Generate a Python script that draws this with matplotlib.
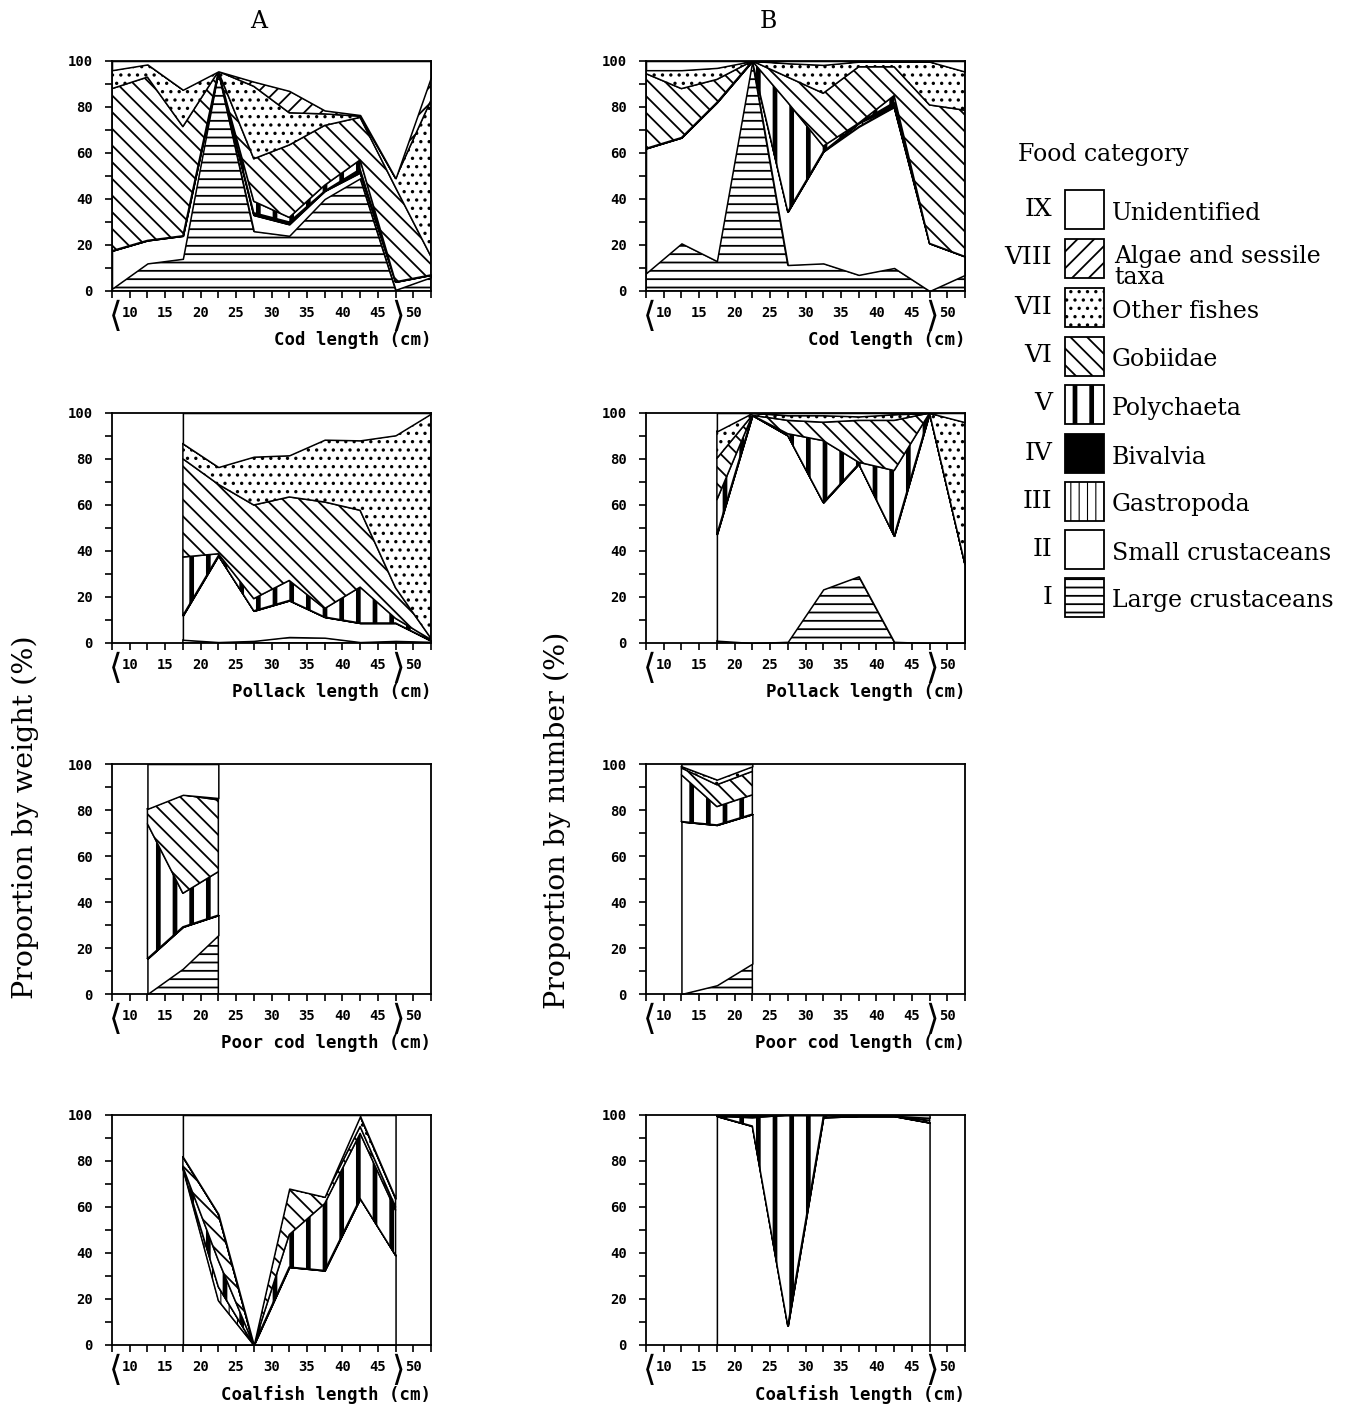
import numpy as np
import matplotlib
matplotlib.use('Agg')
import matplotlib.pyplot as plt
import matplotlib.transforms as mtransforms
from matplotlib.patches import Rectangle

nan = np.nan

'''DATA'''
# midpoints of the length classes (cm): <10, 10-15, ..., >50
lengths = [7.5, 12.5, 17.5, 22.5, 27.5, 32.5, 37.5, 42.5, 47.5, 52.5]
xtick_vals = [10, 15, 20, 25, 30, 35, 40, 45, 50]
ytick_vals = [0, 20, 40, 60, 80, 100]

numerals = ['I', 'II', 'III', 'IV', 'V', 'VI', 'VII', 'VIII', 'IX']
categories = ['Large crustaceans', 'Small crustaceans', 'Gastropoda', 'Bivalvia',
              'Polychaeta', 'Gobiidae', 'Other fishes', 'Algae and sessile\ntaxa', 'Unidentified']

# % of food category I..VIII per length class (IX unidentified = rest up to 100)
# nan -> no fish in that length class
cod_weight = [
    [1, 12, 14, 95.5, 26, 24, 40, 49, 0.5, 6],
    [16.5, 10, 10, 0, 7, 5, 3.5, 2.5, 3.5, 1],
    [0, 0, 0, 0, 0, 0, 0, 0, 0, 0],
    [0, 0, 0, 0, 1, 1, 0, 1.5, 0, 0],
    [0, 0, 0, 0, 5, 2, 2.5, 4, 0, 0],
    [70.5, 71, 47.5, 0, 18.5, 31.5, 26, 18.5, 41, 8],
    [8, 5.5, 16, 0, 31.5, 14, 5, 0.5, 4, 68],
    [0, 0, 0, 0, 2, 9.5, 1.5, 0.5, 0, 10],
]
cod_number = [
    [7.7, 20.7, 13, 100, 11.3, 12, 7, 10, 0, 7],
    [54.3, 46, 69, 0, 23.2, 48.6, 64.4, 70, 20.7, 8],
    [0, 0, 0, 0, 0, 0, 1.6, 0, 0, 0],
    [0, 0, 0, 0, 0, 0, 0, 2, 0, 0],
    [0, 0, 0, 0, 47.5, 2.4, 0, 3, 0, 0],
    [32.5, 21.3, 10, 0, 11, 23, 24.5, 12.5, 60.2, 63.6],
    [1.5, 8, 5, 0, 6, 12.3, 2.2, 2.2, 18.8, 16.8],
    [0, 0, 0, 0, 0, 0, 0, 0, 0, 0],
]
pollack_weight = [
    [nan, nan, 1.4, 0.4, 0.9, 2.6, 2.3, 0.4, 0.9, 0.5],
    [nan, nan, 10.6, 37.6, 13.1, 15.9, 9, 8.3, 7.8, 0.5],
    [nan, nan, 0, 0, 0, 0, 0, 0, 0, 0],
    [nan, nan, 0, 0, 0, 0, 0, 0, 0, 0],
    [nan, nan, 25.4, 0.8, 5.3, 8.7, 3.7, 15.6, 2, 0.5],
    [nan, nan, 42.7, 30.2, 40.7, 36.3, 46.3, 33.4, 13.3, 0.5],
    [nan, nan, 6.6, 7.5, 21, 18.1, 27.1, 30.4, 66.3, 97.7],
    [nan, nan, 0, 0, 0, 0, 0, 0, 0, 0],
]
pollack_number = [
    [nan, nan, 1, 0, 0.5, 23.3, 29, 0.5, 0, 0],
    [nan, nan, 46.3, 99, 89.7, 37.8, 48.9, 46.1, 100, 34.2],
    [nan, nan, 0, 0, 0, 0, 0, 0, 0, 0],
    [nan, nan, 0, 0, 0, 0, 0, 0, 0, 0],
    [nan, nan, 15, 0, 0.8, 26.9, 0.7, 28.4, 0, 0],
    [nan, nan, 18, 0, 5.8, 8, 18.2, 21.8, 0, 0],
    [nan, nan, 11.7, 1, 2.2, 3, 1.7, 2.6, 0, 61.8],
    [nan, nan, 0, 0, 0, 0, 0, 0, 0, 0],
]
poorcod_weight = [
    [nan, 0, 11, 25.6, nan, nan, nan, nan, nan, nan],
    [nan, 15.4, 18.2, 8.7, nan, nan, nan, nan, nan, nan],
    [nan, 0, 0, 0, nan, nan, nan, nan, nan, nan],
    [nan, 0, 0, 0, nan, nan, nan, nan, nan, nan],
    [nan, 58.6, 14.6, 18.9, nan, nan, nan, nan, nan, nan],
    [nan, 6.5, 42.8, 31.2, nan, nan, nan, nan, nan, nan],
    [nan, 0, 0, 0.8, nan, nan, nan, nan, nan, nan],
    [nan, 0, 0, 0, nan, nan, nan, nan, nan, nan],
]
poorcod_number = [
    [nan, 0, 3.8, 13.2, nan, nan, nan, nan, nan, nan],
    [nan, 75, 69.7, 65, nan, nan, nan, nan, nan, nan],
    [nan, 0, 0, 0, nan, nan, nan, nan, nan, nan],
    [nan, 0, 0, 0, nan, nan, nan, nan, nan, nan],
    [nan, 20.3, 8, 8.4, nan, nan, nan, nan, nan, nan],
    [nan, 3, 9.5, 10.2, nan, nan, nan, nan, nan, nan],
    [nan, 0.7, 2.2, 2.2, nan, nan, nan, nan, nan, nan],
    [nan, 0, 0, 0, nan, nan, nan, nan, nan, nan],
]
coalfish_weight = [
    [nan, nan, 0, 0, 0, 0, 0, 0, 0, nan],
    [nan, nan, 76.7, 19.3, 0, 33.9, 32.4, 63.7, 39, nan],
    [nan, nan, 0, 6, 0, 0, 0, 0, 0, nan],
    [nan, nan, 0, 0, 0, 0, 0, 0, 0, nan],
    [nan, nan, 0.8, 11.5, 0, 14.1, 29.1, 28.3, 19.6, nan],
    [nan, nan, 4.3, 20.2, 0, 20, 2.9, 3, 1.4, nan],
    [nan, nan, 0, 0, 0, 0, 0, 4.5, 3.7, nan],
    [nan, nan, 0, 0, 0, 0, 0, 0, 0, nan],
]
coalfish_number = [
    [nan, nan, 0, 0, 0, 0, 0, 0, 0, nan],
    [nan, nan, 99.5, 95.2, 8.4, 99, 99.5, 99.5, 96.7, nan],
    [nan, nan, 0, 0, 0, 0, 0, 0, 0, nan],
    [nan, nan, 0, 0, 0, 0, 0, 0, 0, nan],
    [nan, nan, 0, 3.6, 91.6, 1, 0, 0, 1, nan],
    [nan, nan, 0, 0.8, 0, 0, 0, 0, 1.1, nan],
    [nan, nan, 0, 0, 0, 0, 0, 0, 0, nan],
    [nan, nan, 0, 0, 0, 0, 0, 0, 0, nan],
]

rows = [
    (cod_weight, cod_number, 'Cod length (cm)'),
    (pollack_weight, pollack_number, 'Pollack length (cm)'),
    (poorcod_weight, poorcod_number, 'Poor cod length (cm)'),
    (coalfish_weight, coalfish_number, 'Coalfish length (cm)'),
]

'''STYLE'''
# face, hatch, hatch linewidth for I..IX
faces = ['white', 'white', 'white', 'black', 'white', 'white', 'white', 'white', 'white']
hatches = ['--', None, '||', None, '|', '\\\\', '..', '//', None]
hatch_lw = [1.3, 1, 0.8, 1, 3.4, 1.3, 1.2, 1.3, 1]

tickfont = dict(family='DejaVu Sans Mono', weight='bold', size=10)
serif = 'DejaVu Serif'

W, H = 1345, 1406
fig = plt.figure(figsize=(W / 100, H / 100), dpi=100, facecolor='w')


def set_hlw(artist, lw):
    if hasattr(artist, 'set_hatch_linewidth'):
        artist.set_hatch_linewidth(lw)


def draw_panel(ax, data, xlabel):
    vals = np.array(data, dtype=float)
    ok = ~np.isnan(vals[0])
    x = np.array(lengths)[ok]
    v = vals[:, ok]
    v = np.vstack([v, 100 - v.sum(axis=0)])   # IX unidentified
    tops = np.cumsum(v, axis=0)
    bots = tops - v
    for k in range(9):
        with plt.rc_context({'hatch.linewidth': hatch_lw[k]}):
            coll = ax.fill_between(x, bots[k], tops[k], facecolor=faces[k],
                                   edgecolor='black', linewidth=1.1, hatch=hatches[k])
        set_hlw(coll, hatch_lw[k])
    ax.set_xlim(7.5, 52.5)
    ax.set_ylim(0, 100)
    ax.set_xticks(xtick_vals)
    ax.set_xticklabels([str(t) for t in xtick_vals], **tickfont)
    ax.set_xticks(np.arange(7.5, 52.6, 2.5), minor=True)
    ax.set_yticks(ytick_vals)
    ax.set_yticklabels([str(t) for t in ytick_vals], **tickfont)
    ax.set_yticks(np.arange(10, 100, 20), minor=True)
    ax.tick_params(which='both', direction='out', length=5, width=1.2, color='black')
    ax.tick_params(axis='x', which='major', pad=6)
    ax.tick_params(axis='y', which='major', pad=9)
    for s in ax.spines.values():
        s.set_linewidth(1.3)
    # the "<10" and ">50" brackets of the open-ended classes
    trans = mtransforms.blended_transform_factory(ax.transData, ax.transAxes)
    ax.text(8.0, -0.11, '\u27e8', transform=trans, ha='center', va='center',
            fontsize=25, family=['DejaVu Sans', 'DejaVu Serif'])
    ax.text(47.8, -0.11, '\u27e9', transform=trans, ha='center', va='center',
            fontsize=25, family=['DejaVu Sans', 'DejaVu Serif'])
    ax.text(1.0, -0.215, xlabel, transform=ax.transAxes, ha='right', va='center',
            family='DejaVu Sans Mono', weight='bold', size=12.5)


col_left = [112, 646]
row_top = [61, 413, 764, 1115]
aw, ah = 319, 230
for r, (wdat, ndat, lab) in enumerate(rows):
    for c, dat in enumerate([wdat, ndat]):
        ax = fig.add_axes([col_left[c] / W, 1 - (row_top[r] + ah) / H, aw / W, ah / H])
        draw_panel(ax, dat, lab)

# column titles and y labels
fig.text(259 / W, 1 - 22 / H, 'A', ha='center', va='center', family=serif, size=17)
fig.text(768 / W, 1 - 22 / H, 'B', ha='center', va='center', family=serif, size=17)
fig.text(25 / W, 1 - 817 / H, 'Proportion by weight (%)', rotation=90,
         ha='center', va='center', family=serif, size=20.5)
fig.text(557 / W, 1 - 820 / H, 'Proportion by number (%)', rotation=90,
         ha='center', va='center', family=serif, size=20.5)

# legend, drawn in pixel coordinates
lg = fig.add_axes([0, 0, 1, 1])
lg.set_xlim(0, W)
lg.set_ylim(H, 0)
lg.axis('off')
lg.patch.set_visible(False)
lg.text(1018, 155, 'Food category', ha='left', va='center', family=serif, size=17)
centers = [597, 549, 501, 453, 404, 356, 307, 258, 209]   # I .. IX
for k in range(9):
    yc = centers[k]
    with plt.rc_context({'hatch.linewidth': hatch_lw[k]}):
        rect = Rectangle((1065, yc - 19.5), 39, 39, facecolor=faces[k], edgecolor='black',
                         linewidth=1.3, hatch=hatches[k])
    set_hlw(rect, hatch_lw[k])
    lg.add_patch(rect)
    lg.text(1052, yc, numerals[k], ha='right', va='center', family=serif, size=18)
    if '\n' in categories[k]:
        lg.text(1114, yc + 9, categories[k], ha='left', va='center', family=serif,
                size=17, linespacing=0.9)
    else:
        lg.text(1112, yc + 4, categories[k], ha='left', va='center', family=serif, size=17)

fig.savefig('out.png', dpi=100, facecolor='w')
